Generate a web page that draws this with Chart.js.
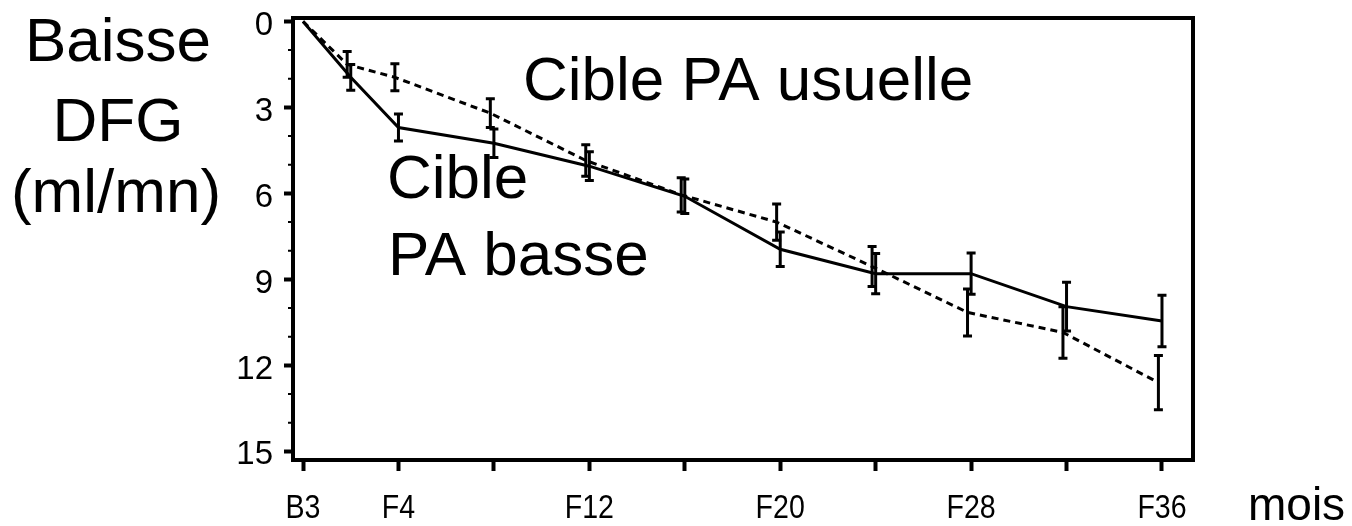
<!DOCTYPE html>
<html lang="fr">
<head>
<meta charset="utf-8">
<title>Baisse DFG</title>
<script src="https://cdn.jsdelivr.net/npm/chart.js@4/dist/chart.umd.min.js"></script>
<style>
  html, body { margin: 0; padding: 0; background: #fff; }
  #wrap { position: relative; width: 1352px; height: 526px; }
</style>
</head>
<body>
<div id="wrap"><canvas id="chart"></canvas></div>
<script>
// Months of follow-up (B3 = baseline, plotted at 0).
const months = [0, 2, 4, 8, 12, 16, 20, 24, 28, 32, 36];

// GFR decline (ml/mn), with error bar half-widths.
const basse = [0, 1.95, 3.7, 4.25, 5.05, 6.1, 7.95, 8.8, 8.8, 9.95, 10.45];
const basseErr = [0, 0.45, 0.47, 0.5, 0.5, 0.6, 0.6, 0.7, 0.72, 0.85, 0.9];
const usuelle = [0, 1.5, 1.95, 3.2, 4.85, 6.05, 7.0, 8.55, 10.15, 10.85, 12.6];
const usuelleErr = [0, 0.45, 0.47, 0.5, 0.55, 0.6, 0.63, 0.7, 0.82, 0.9, 0.95];

// Axis ticks.
const xTickValues = [0, 4, 8, 12, 16, 20, 24, 28, 32, 36];
const xTickLabels = ["B3", "F4", "", "F12", "", "F20", "", "F28", "", "F36"];
const yTickValues = [0, 3, 6, 9, 12, 15];
const yMinorTicks = [1, 2, 4, 5, 7, 8, 10, 11, 13, 14];

const dodge = -0.15; // the dashed series sits a hair to the left in the original

const FONT = "'Liberation Sans', Arial, Helvetica, sans-serif";

// Draws error bars, the box frame, minor ticks, x labels and the text labels.
const figurePlugin = {
  id: "figure",
  afterDatasetsDraw(chart) {
    const ctx = chart.ctx;
    const y = chart.scales.y;
    chart.data.datasets.forEach((ds, i) => {
      const meta = chart.getDatasetMeta(i);
      ds.errors.forEach((err, j) => {
        if (!err) return;
        const px = meta.data[j].x;
        const top = y.getPixelForValue(ds.data[j].y - err);
        const bot = y.getPixelForValue(ds.data[j].y + err);
        ctx.save();
        ctx.strokeStyle = "#000";
        ctx.lineWidth = 3;
        ctx.beginPath();
        ctx.moveTo(px, top); ctx.lineTo(px, bot);
        ctx.moveTo(px - 4.5, top); ctx.lineTo(px + 4.5, top);
        ctx.moveTo(px - 4.5, bot); ctx.lineTo(px + 4.5, bot);
        ctx.stroke();
        ctx.restore();
      });
    });
  },
  afterDraw(chart) {
    const ctx = chart.ctx;
    const a = chart.chartArea;
    const x = chart.scales.x;
    const y = chart.scales.y;
    ctx.save();
    // frame
    ctx.strokeStyle = "#000";
    ctx.lineWidth = 4;
    ctx.strokeRect(a.left, a.top, a.right - a.left, a.bottom - a.top);
    // minor ticks on the y axis
    ctx.lineWidth = 2;
    ctx.beginPath();
    yMinorTicks.forEach(v => {
      const py = y.getPixelForValue(v);
      ctx.moveTo(a.left - 5, py);
      ctx.lineTo(a.left, py);
    });
    ctx.stroke();
    ctx.fillStyle = "#000";
    ctx.textBaseline = "alphabetic";
    // x tick labels, slightly condensed like the original
    ctx.font = "34px " + FONT;
    ctx.textAlign = "center";
    xTickValues.forEach((v, i) => {
      if (!xTickLabels[i]) return;
      ctx.save();
      ctx.translate(x.getPixelForValue(v), 518);
      ctx.scale(0.84, 1);
      ctx.fillText(xTickLabels[i], 0, 0);
      ctx.restore();
    });
    // text
    ctx.font = "62px " + FONT;
    ctx.textAlign = "center";
    ctx.fillText("Baisse", 118, 61);
    ctx.fillText("DFG", 118, 141);
    ctx.fillText("(ml/mn)", 116, 212);
    ctx.textAlign = "left";
    ctx.fillText("Cible PA usuelle", 523, 100);
    ctx.fillText("Cible", 387, 198);
    ctx.fillText("PA basse", 388, 275);
    ctx.font = "46px " + FONT;
    ctx.fillText("mois", 1248, 520);
    ctx.restore();
  }
};

const ctx = document.getElementById("chart");

new Chart(ctx, {
  type: "line",
  data: {
    datasets: [
      {
        label: "Cible PA basse",
        data: months.map((m, i) => ({ x: m, y: basse[i] })),
        errors: basseErr,
        borderColor: "#000",
        borderWidth: 3,
        pointRadius: 0,
        tension: 0
      },
      {
        label: "Cible PA usuelle",
        data: months.map((m, i) => ({ x: m === 0 ? m : m + dodge, y: usuelle[i] })),
        errors: usuelleErr,
        borderColor: "#000",
        borderWidth: 3,
        borderDash: [7, 5],
        pointRadius: 0,
        tension: 0
      }
    ]
  },
  options: {
    responsive: true,
    maintainAspectRatio: false,
    animation: false,
    layout: { padding: { left: 0, top: 0, right: 159, bottom: 0 } },
    plugins: {
      legend: { display: false },
      tooltip: { enabled: false }
    },
    scales: {
      x: {
        type: "linear",
        min: -0.42,
        max: 37.3,
        afterBuildTicks: scale => {
          scale.ticks = xTickValues.map(v => ({ value: v }));
        },
        afterFit: scale => { scale.height = 66; },
        ticks: {
          autoSkip: false,
          maxRotation: 0,
          callback: () => ""
        },
        grid: {
          drawOnChartArea: false,
          drawTicks: true,
          tickLength: 11,
          tickWidth: 4,
          tickColor: "#000"
        },
        border: { display: true, color: "#000", width: 4 }
      },
      y: {
        reverse: true,
        min: -0.12,
        max: 15.3,
        afterBuildTicks: scale => {
          scale.ticks = yTickValues.map(v => ({ value: v }));
        },
        afterFit: scale => {
          scale.width = 293;
          scale.paddingTop = 18;
        },
        ticks: {
          padding: 11,
          labelOffset: 4,
          color: "#000",
          font: { family: FONT, size: 33 }
        },
        grid: {
          drawOnChartArea: false,
          drawTicks: true,
          tickLength: 9,
          tickWidth: 4,
          tickColor: "#000"
        },
        border: { display: true, color: "#000", width: 4 }
      }
    }
  },
  plugins: [figurePlugin]
});
</script>
</body>
</html>
